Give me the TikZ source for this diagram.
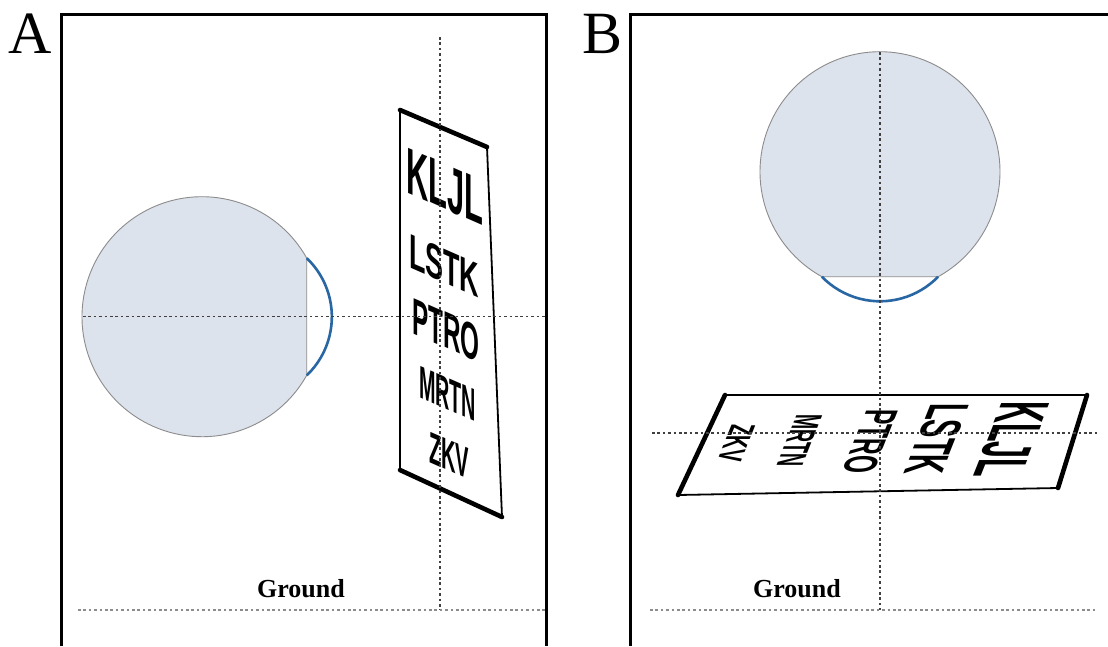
\documentclass[tikz,border=0pt]{standalone}
\usepackage{fontspec}
\setmainfont{Liberation Serif}
\newfontfamily\chartfont{Liberation Sans}
\definecolor{eyeFill}{RGB}{221,227,237}
\definecolor{eyeEdge}{RGB}{140,140,140}
\definecolor{corneaBlue}{RGB}{40,102,164}

\begin{document}
\begin{tikzpicture}[x=1pt, y=-1pt,
    frame/.style={line width=3pt},
    guide/.style={dash pattern=on 2.6pt off 2.8pt, line width=1.2pt, black!75},
    groundline/.style={guide, black!45},
    eyeball/.style={fill=eyeFill, draw=eyeEdge, line width=0.9pt},
    cornea/.style={draw=corneaBlue, line width=2.6pt},
    chartside/.style={line width=1.8pt},
    chartrim/.style={line width=4.6pt, line cap=round},
    letters/.style={anchor=base west, inner sep=0pt, transform shape,
      font=\chartfont\bfseries\fontsize{#1}{#1}\selectfont},
    panellabel/.style={anchor=base, inner sep=0pt, font=\fontsize{60}{60}\selectfont},
    groundtext/.style={anchor=base, inner sep=0pt, font=\bfseries\fontsize{26}{26}\selectfont}
  ]
    \useasboundingbox[fill=white] (0,0) rectangle (1108,646);

    % panel frames and letters
    \draw[frame] (61.5,646) -- (61.5,14.5) -- (546,14.5) -- (546,646);
    \draw[frame] (630,646) -- (630,14.5) -- (1108,14.5);
    \node[panellabel] (labA) at (30,53) {A};
    \node[panellabel] (labB) at (603,53) {B};

    % A: eye looking sideways at an upright chart
    \filldraw[eyeball] (306.7,258.1) arc[start angle=-29.24, end angle=-330.76, radius=120] -- cycle;
    \draw[cornea] (306.7,258.1) arc[start angle=-46.4, end angle=46.4, radius=81];

    \filldraw[fill=white, chartside] (400,110) -- (487,147) -- (502,517) -- (400,470) -- cycle;
    \draw[chartrim] (400,110) -- (487,147);
    \draw[chartrim] (400,470) -- (502,517);
    \node[letters=65.6, cm={0.47,-0.207,0,1,(0,0)}] (a1) at (406,192) {KLJL};
    \node[letters=48.9, cm={0.55,-0.242,0,1,(0,0)}] (a2) at (409,267) {LSTK};
    \node[letters=51.7, cm={0.47,-0.207,0,1,(0,0)}] (a3) at (412,333) {PTRO};
    \node[letters=46, cm={0.43,-0.189,0,1,(0,0)}] (a4) at (419,397) {MRTN};
    \node[letters=44.7, cm={0.45,-0.198,0,1,(0,0)}] (a5) at (429,462) {ZKV};

    \draw[guide] (83,316.7) -- (546,316.7);
    \draw[guide] (440,37) -- (440,610);
    \draw[groundline] (78,610) -- (546,610);
    \node[groundtext] (gndA) at (301,597) {Ground};

    % B: eye looking down at the chart lying flat
    \filldraw[eyeball] (938.1,276.7) arc[start angle=61.04, end angle=-241.04, radius=120] -- cycle;
    \draw[cornea] (938.1,276.7) arc[start angle=44.15, end angle=135.85, radius=81];

    \filldraw[fill=white, chartside] (725,395) -- (1087,395) -- (1058,488) -- (678,495) -- cycle;
    \draw[chartrim] (1087,395) -- (1058,488);
    \draw[chartrim] (725,395) -- (678,495);
    \node[letters=69.8, cm={-0.174,-0.435,1,0,(0,0)}] (b1) at (1003,401) {KLJL};
    \node[letters=55.9, cm={-0.196,-0.49,1,0,(0,0)}] (b2) at (932,403) {LSTK};
    \node[letters=46.1, cm={-0.2,-0.5,1,0,(0,0)}] (b3) at (867,409) {PTRO};
    \node[letters=37.7, cm={-0.192,-0.48,1,0,(0,0)}] (b4) at (797,414) {MRTN};
    \node[letters=34.9, cm={-0.216,-0.54,1,0,(0,0)}] (b5) at (732,424) {ZKV};

    \draw[guide] (880,52) -- (880,610);
    \draw[guide] (652,433) -- (1097,433);
    \draw[groundline] (650,610) -- (1095,610);
    \node[groundtext] (gndB) at (797,597) {Ground};
\end{tikzpicture}
\end{document}
